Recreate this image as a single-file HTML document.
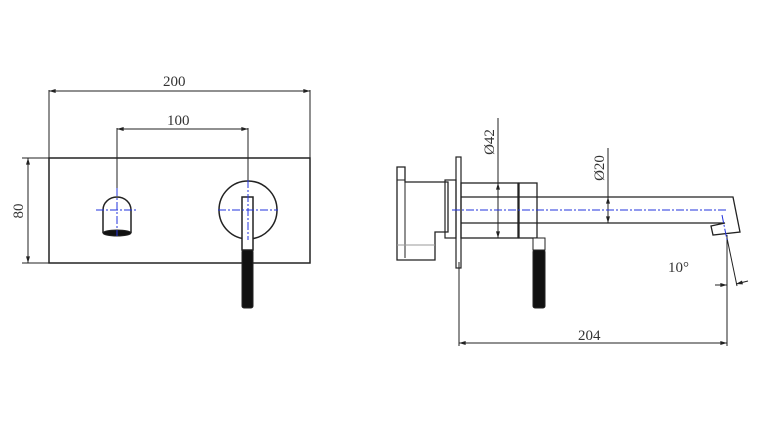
<!DOCTYPE html>
<html><head><style>body{margin:0;background:#fff}svg{display:block}text{font-family:"Liberation Serif",serif;font-size:15px;fill:#333}</style></head><body>
<svg width="757" height="444" viewBox="0 0 757 444" xmlns="http://www.w3.org/2000/svg">
<defs><marker id="a" viewBox="0 0 10 6" refX="10" refY="3" markerWidth="10" markerHeight="4" orient="auto-start-reverse"><path d="M0,0L10,3L0,6z" fill="#222"/></marker></defs>
<g stroke="#222" fill="none" stroke-width="1">
<rect x="49" y="158" width="261" height="105" stroke-width="1.5"/>
<line x1="49" y1="90" x2="49" y2="158"/><line x1="310" y1="90" x2="310" y2="158"/>
<line x1="49" y1="91" x2="310" y2="91" marker-start="url(#a)" marker-end="url(#a)"/>
<line x1="117" y1="128" x2="117" y2="195"/><line x1="248" y1="128" x2="248" y2="182"/>
<line x1="117" y1="129" x2="248" y2="129" marker-start="url(#a)" marker-end="url(#a)"/>
<line x1="22" y1="158" x2="49" y2="158"/><line x1="22" y1="263" x2="49" y2="263"/>
<line x1="28" y1="158" x2="28" y2="263" marker-start="url(#a)" marker-end="url(#a)"/>
<path d="M103,233V210A14,13 0 0 1 131,210V233" stroke-width="1.5"/>
<ellipse cx="117" cy="233" rx="14" ry="3" fill="#111"/>
<circle cx="248" cy="210" r="29" stroke-width="1.5"/>
<rect x="242" y="197" width="11" height="53" fill="#fff" stroke-width="1.5"/>
<rect x="242" y="250" width="11" height="58" rx="2" fill="#111"/>
<path d="M397,167H405V182H448V232H435V260H397Z" stroke-width="1.3"/>
<line x1="405" y1="182" x2="405" y2="258"/>
<line x1="397" y1="180" x2="405" y2="180"/><line x1="397" y1="245" x2="435" y2="245" stroke="#999"/>
<rect x="445" y="180" width="11" height="58" stroke-width="1.2"/>
<rect x="456" y="157" width="5" height="111" stroke-width="1.2"/>
<rect x="461" y="183" width="57" height="55" stroke-width="1.3"/>
<rect x="519" y="183" width="18" height="55" stroke-width="1.3"/>
<path d="M461,197H733L740,232L713,235L711,226L725,223H461" stroke-width="1.3"/>
<rect x="533" y="238" width="12" height="12" fill="#fff"/>
<rect x="533" y="250" width="12" height="58" rx="2" fill="#111"/>
<line x1="498" y1="118" x2="498" y2="238"/>
<line x1="498" y1="183" x2="498" y2="238" marker-start="url(#a)" marker-end="url(#a)"/>
<line x1="608" y1="148" x2="608" y2="223"/>
<line x1="608" y1="197" x2="608" y2="223" marker-start="url(#a)" marker-end="url(#a)"/>
<line x1="459" y1="262" x2="459" y2="346"/><line x1="727" y1="235" x2="727" y2="346"/>
<line x1="459" y1="343" x2="727" y2="343" marker-start="url(#a)" marker-end="url(#a)"/>
<line x1="727" y1="238" x2="737" y2="286"/>
<line x1="715" y1="285" x2="727" y2="285" marker-end="url(#a)"/>
<line x1="748" y1="281" x2="736" y2="284" marker-end="url(#a)"/>
</g>
<g stroke="#2233dd" stroke-width="1" stroke-dasharray="8,2,2,2" fill="none">
<line x1="96" y1="210" x2="138" y2="210"/><line x1="117" y1="188" x2="117" y2="236"/>
<line x1="218" y1="210" x2="278" y2="210"/><line x1="248" y1="180" x2="248" y2="240"/>
<line x1="452" y1="210" x2="727" y2="210"/><line x1="722" y1="215" x2="727" y2="240"/>
</g>
<text x="163" y="86">200</text>
<text x="167" y="125">100</text>
<text transform="translate(23,211) rotate(-90)" text-anchor="middle">80</text>
<text transform="translate(494,142) rotate(-90)" text-anchor="middle">Ø42</text>
<text transform="translate(604,168) rotate(-90)" text-anchor="middle">Ø20</text>
<text x="578" y="340">204</text>
<text x="668" y="272">10°</text>
</svg>
</body></html>
